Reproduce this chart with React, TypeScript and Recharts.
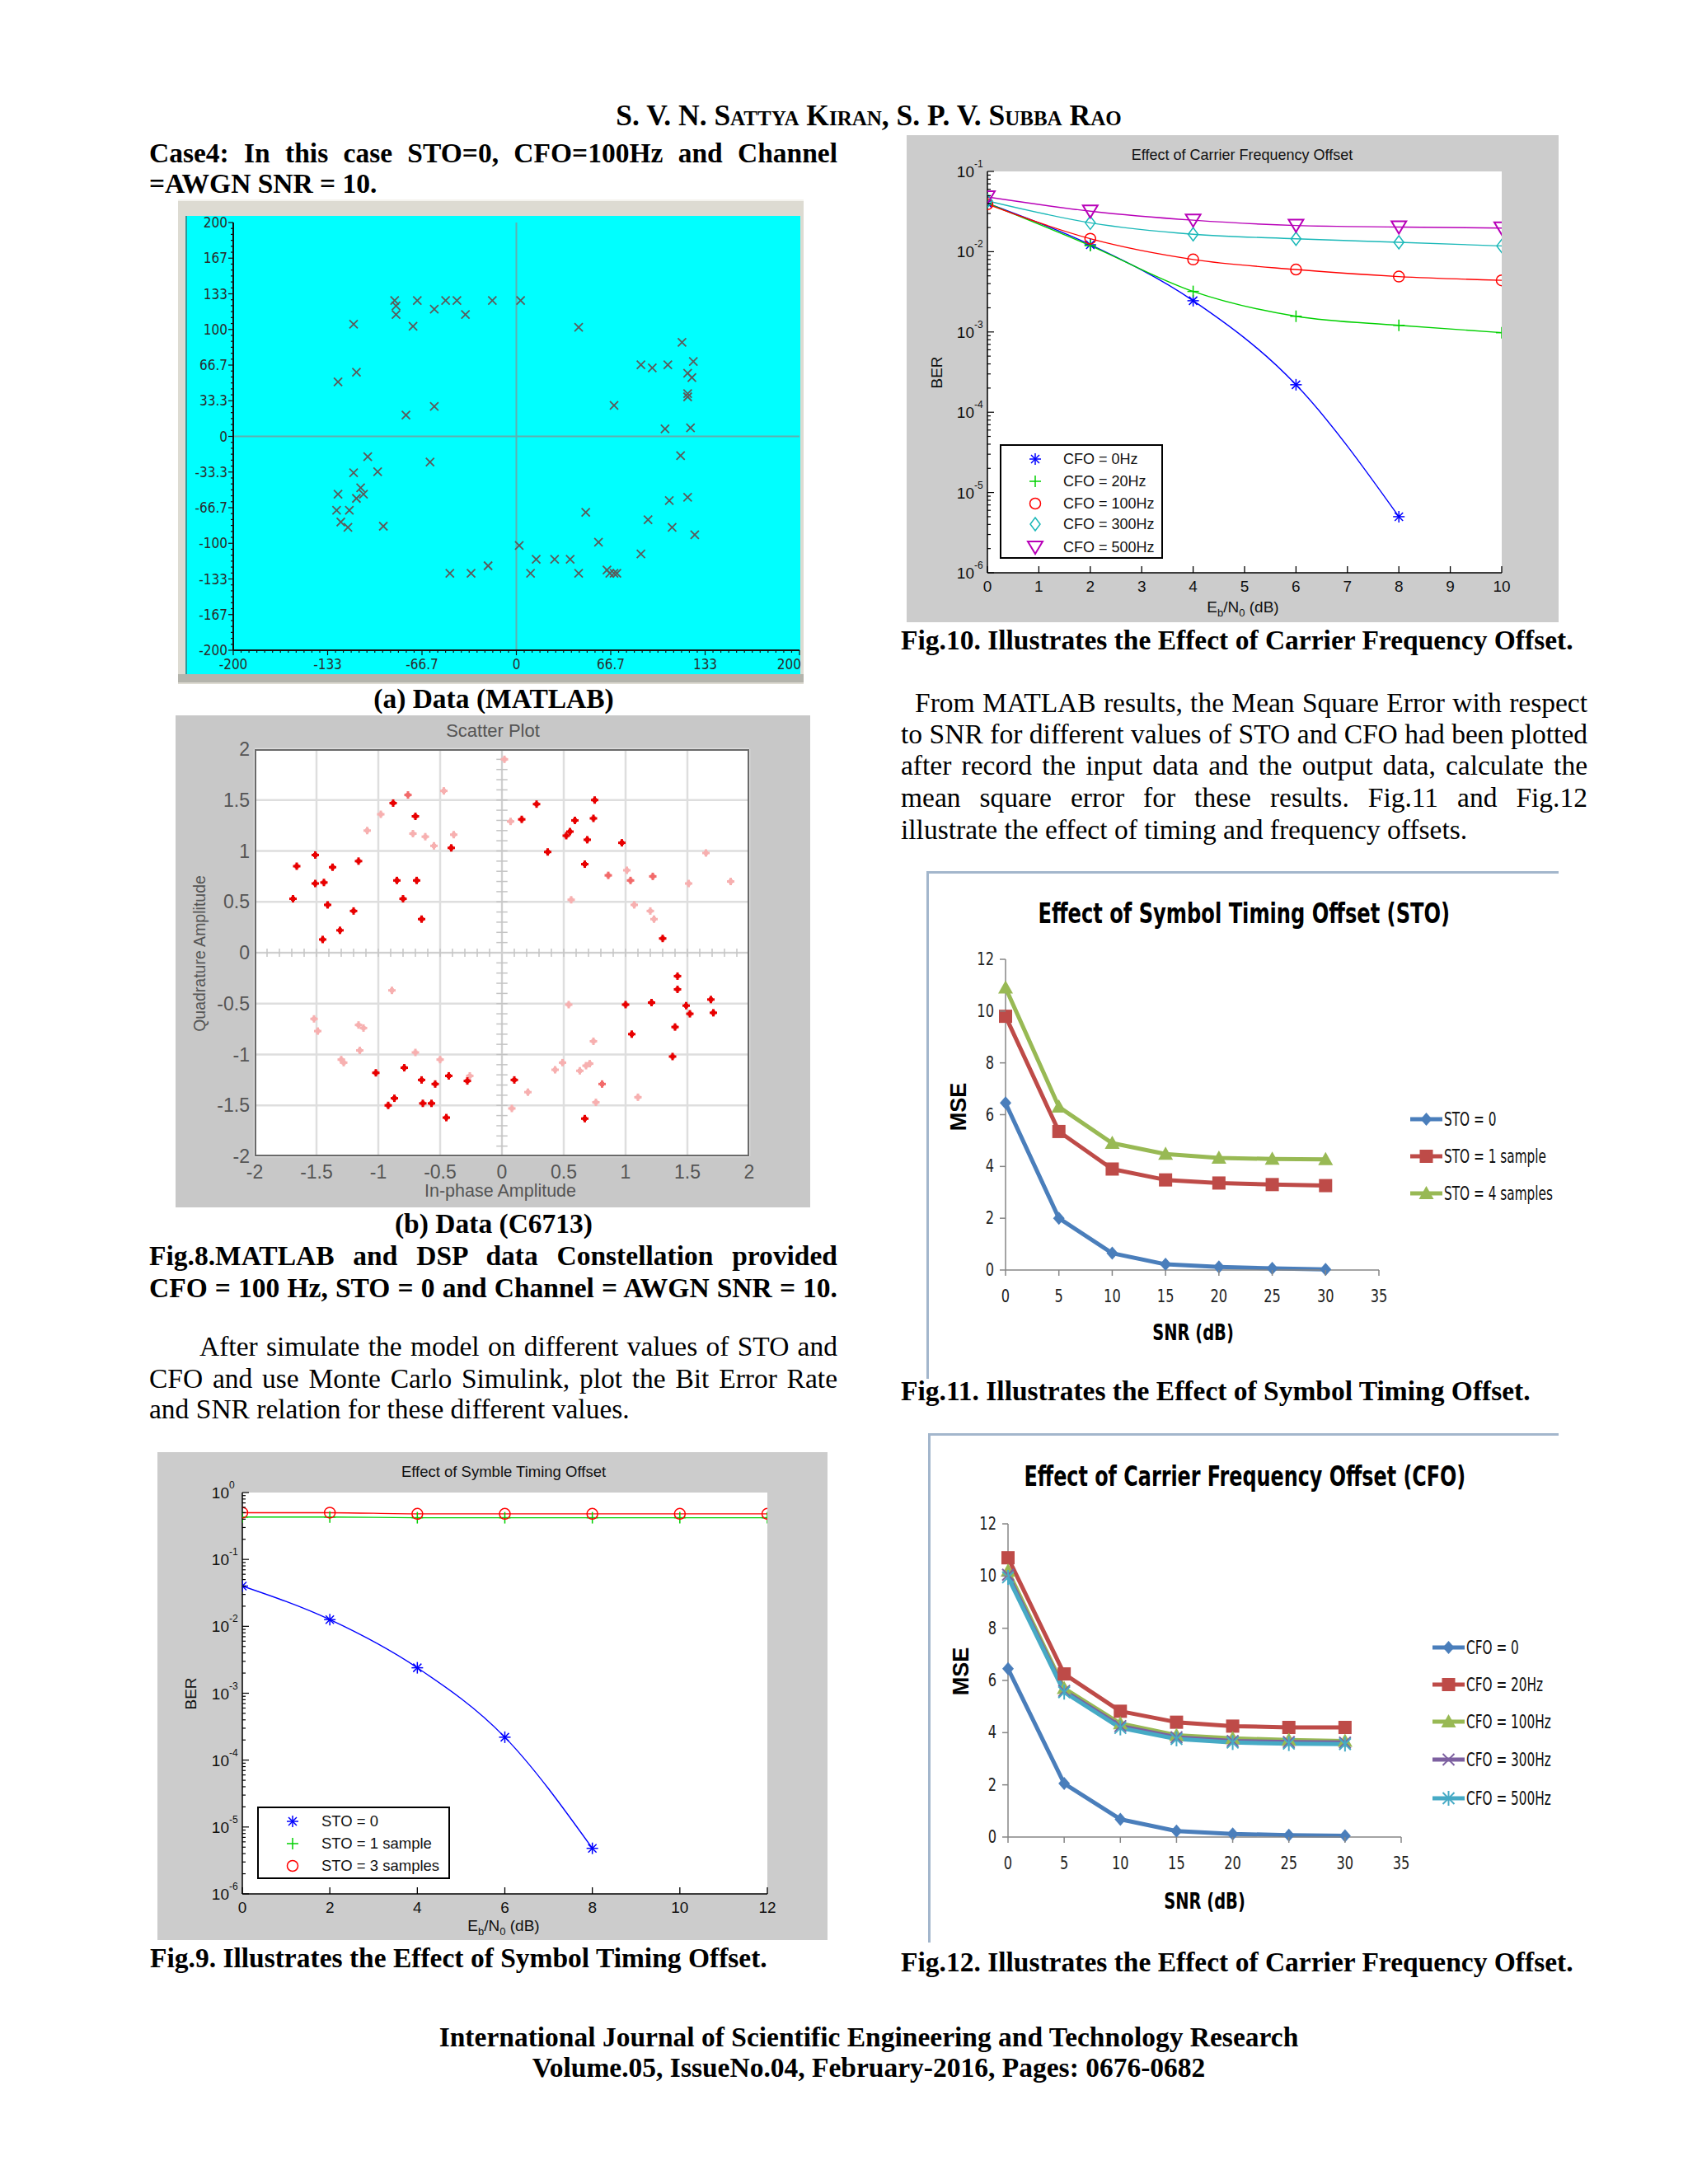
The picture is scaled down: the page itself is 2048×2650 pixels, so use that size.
import React from 'react';
import {
  ScatterChart,
  Scatter,
  LineChart,
  Line,
  XAxis,
  YAxis,
  CartesianGrid,
  ReferenceLine,
  Legend,
} from 'recharts';

const serif = "'Liberation Serif', 'Times New Roman', serif";
const sans = "'Liberation Sans', Arial, sans-serif";
const narrow = "'Liberation Sans Narrow', 'DejaVu Sans Condensed', 'Liberation Sans', sans-serif";
const pixelFont = "'DejaVu Sans Condensed', 'DejaVu Sans', sans-serif";

// ---- Fig.8(a): MATLAB constellation (I, Q)
const matlabPoints: [number, number][] = [
  [-86, 127], [-85, 122], [-85, 114], [-70, 127], [-58, 119], [-50, 127], [-42, 127], [-36, 114], [-17, 127], [3, 127],
  [-115, 105], [-73, 103], [44, 102], [117, 88], [125, 70], [88, 67], [96, 64], [107, 67], [121, 59], [124, 55],
  [-113, 60], [-126, 51], [121, 40], [121, 37], [-58, 28], [-78, 20], [69, 29], [105, 7], [123, 8],
  [-105, -19], [-61, -24], [116, -18], [-115, -34], [-98, -33], [-126, -54], [-110, -48], [-108, -54], [-113, -58],
  [121, -57], [108, -60], [-127, -69], [-118, -69], [49, -71], [-124, -80], [-119, -85], [-94, -84], [93, -78],
  [110, -85], [126, -92], [58, -99], [2, -102], [88, -110], [14, -115], [27, -115], [38, -115], [-20, -121],
  [-47, -128], [-32, -128], [10, -128], [44, -128], [64, -125], [66, -128], [69, -128], [71, -128],
];
const matlabXLabels = ['-200', '-133', '-66.7', '0', '66.7', '133', '200'];
const matlabYLabels = ['-200', '-167', '-133', '-100', '-66.7', '-33.3', '0', '33.3', '66.7', '100', '133', '167', '200'];

// ---- Fig.8(b): C6713 scatter plot
const dspStrong: [number, number][] = [
  [-1.66, 0.85], [-1.51, 0.96], [-1.37, 0.84], [-1.51, 0.68], [-1.44, 0.69], [-1.41, 0.47], [-1.69, 0.53],
  [-1.16, 0.9], [-1.2, 0.41], [-1.31, 0.22], [-1.45, 0.13], [-0.85, 0.71], [-0.69, 0.71], [-0.8, 0.53],
  [-0.65, 0.33], [-0.7, 1.34], [-0.41, 1.03], [-0.88, 1.47], [0.16, 1.31], [0.28, 1.46], [0.59, 1.3],
  [0.52, 1.15], [0.55, 1.19], [0.74, 1.32], [0.75, 1.5], [0.69, 1.11], [0.37, 0.99], [0.97, 1.08], [0.67, 0.87],
  [1.3, 0.14], [1.42, -0.23], [1.42, -0.36], [1.0, -0.51], [1.21, -0.49], [1.49, -0.52], [1.52, -0.6],
  [1.69, -0.46], [1.71, -0.59], [1.4, -0.73], [1.05, -0.8], [1.38, -1.02], [0.67, -1.63], [0.1, -1.25],
  [-0.28, -1.26], [-0.43, -1.21], [-0.54, -1.29], [-0.65, -1.25], [-0.79, -1.13], [-1.02, -1.18],
  [-0.87, -1.43], [-0.92, -1.5], [-0.64, -1.48], [-0.57, -1.48], [-0.45, -1.62],
];
const dspMid: [number, number][] = [
  [-0.76, 1.55], [0.86, 0.76], [1.04, 0.71], [1.22, 0.75], [0.81, -1.29],
];
const dspFaint: [number, number][] = [
  [-1.09, 1.2], [-0.98, 1.36], [-0.72, 1.17], [-0.62, 1.14], [-0.55, 1.05], [-0.47, 1.59], [-0.39, 1.16],
  [0.07, 1.29], [0.02, 1.9], [1.01, 0.81], [1.07, 0.47], [1.2, 0.41], [1.23, 0.33], [0.56, 0.52], [1.65, 0.98],
  [1.51, 0.68], [1.85, 0.7], [-0.89, -0.37], [-1.52, -0.65], [-1.49, -0.77], [-1.16, -0.71], [-1.12, -0.74],
  [-1.15, -0.96], [-1.3, -1.05], [-1.28, -1.08], [-0.7, -0.98], [-0.5, -1.05], [-0.26, -1.21], [0.54, -0.51],
  [0.74, -0.87], [0.49, -1.08], [0.43, -1.15], [0.63, -1.16], [0.68, -1.11], [0.71, -1.09], [0.21, -1.37],
  [1.1, -1.42], [0.76, -1.47], [0.08, -1.53],
];
const dspTicks = [-2, -1.5, -1, -0.5, 0, 0.5, 1, 1.5, 2];

// ---- Fig.9: BER vs Eb/N0 for STO
const stoEbN0 = [0, 2, 4, 6, 8, 10, 12];
const berSto0 = [0.04, 0.0126, 0.0024, 0.00022, 0.0000048];
const berSto1 = [0.43, 0.43, 0.42, 0.42, 0.42, 0.42, 0.42];
const berSto3 = [0.5, 0.5, 0.48, 0.48, 0.48, 0.48, 0.48];

// ---- Fig.10: BER vs Eb/N0 for CFO
const cfoEbN0 = [0, 2, 4, 6, 8, 10];
const berCfo0 = [0.04, 0.0122, 0.00245, 0.00022, 0.000005];
const berCfo20 = [0.04, 0.0119, 0.0032, 0.00157, 0.00121, 0.00098];
const berCfo100 = [0.039, 0.0145, 0.008, 0.006, 0.0049, 0.0044];
const berCfo300 = [0.043, 0.0229, 0.0165, 0.0145, 0.0131, 0.0118];
const berCfo500 = [0.048, 0.032, 0.0247, 0.0212, 0.0203, 0.0197];

// ---- Fig.11 / Fig.12: MSE vs SNR
const snrDb = [0, 5, 10, 15, 20, 25, 30];
const mseSto0 = [6.45, 2.0, 0.65, 0.22, 0.12, 0.06, 0.02];
const mseSto1 = [9.8, 5.35, 3.9, 3.48, 3.36, 3.3, 3.26];
const mseSto4 = [10.9, 6.3, 4.9, 4.48, 4.33, 4.29, 4.27];
const mseCfo0 = [6.45, 2.05, 0.68, 0.23, 0.12, 0.07, 0.05];
const mseCfo20 = [10.7, 6.25, 4.82, 4.4, 4.25, 4.2, 4.2];
const mseCfo100 = [10.2, 5.7, 4.35, 3.9, 3.78, 3.72, 3.68];
const mseCfo300 = [10.05, 5.6, 4.25, 3.82, 3.68, 3.64, 3.62];
const mseCfo500 = [9.95, 5.55, 4.18, 3.76, 3.62, 3.58, 3.56];

const toXY = (pts: [number, number][]) => pts.map(([x, y]) => ({ x, y }));

const fig9Data = stoEbN0.map((x, i) => ({ x, sto0: berSto0[i] ?? null, sto1: berSto1[i], sto3: berSto3[i] }));
const fig10Data = cfoEbN0.map((x, i) => ({
  x, cfo0: berCfo0[i] ?? null, cfo20: berCfo20[i], cfo100: berCfo100[i], cfo300: berCfo300[i], cfo500: berCfo500[i],
}));
const fig11Data = snrDb.map((x, i) => ({ x, sto0: mseSto0[i], sto1: mseSto1[i], sto4: mseSto4[i] }));
const fig12Data = snrDb.map((x, i) => ({
  x, cfo0: mseCfo0[i], cfo20: mseCfo20[i], cfo100: mseCfo100[i], cfo300: mseCfo300[i], cfo500: mseCfo500[i],
}));

// axis tick helpers
const matlabTicks = Array.from({ length: 73 }, (_, k) => -200 + (k * 400) / 72);
function logTicks(minExp: number, maxExp: number) {
  const t: number[] = [];
  for (let e = minExp; e < maxExp; e++) {
    for (let m = 1; m < 10; m++) t.push(Number((m * Math.pow(10, e)).toPrecision(2)));
  }
  t.push(Math.pow(10, maxExp));
  return t;
}
const centerMinor = Array.from({ length: 39 }, (_, k) => Number((-1.9 + k * 0.1).toFixed(1))).filter((v) => v !== 0);

// ---------- markers ----------
function XMark({ cx, cy }: any) {
  const r = 5;
  return (
    <g stroke="#5b5b5b" strokeWidth={1.8}>
      <line x1={cx - r} y1={cy - r} x2={cx + r} y2={cy + r} />
      <line x1={cx - r} y1={cy + r} x2={cx + r} y2={cy - r} />
    </g>
  );
}

function PlusBlob({ cx, cy, color }: any) {
  return (
    <g fill={color}>
      <rect x={cx - 4.5} y={cy - 1.5} width={9} height={3} />
      <rect x={cx - 1.5} y={cy - 4.5} width={3} height={9} />
      <rect x={cx - 2.5} y={cy - 2.5} width={5} height={5} />
    </g>
  );
}

function MatlabMarker({ kind, cx, cy, color }: any) {
  if (kind === 'star') {
    const r = 7;
    const d = 5;
    return (
      <g stroke={color} strokeWidth={1.5}>
        <line x1={cx - r} x2={cx + r} y1={cy} y2={cy} />
        <line x1={cx} x2={cx} y1={cy - r} y2={cy + r} />
        <line x1={cx - d} x2={cx + d} y1={cy - d} y2={cy + d} />
        <line x1={cx - d} x2={cx + d} y1={cy + d} y2={cy - d} />
      </g>
    );
  }
  if (kind === 'plus') {
    const r = 7;
    return (
      <g stroke={color} strokeWidth={1.5}>
        <line x1={cx - r} x2={cx + r} y1={cy} y2={cy} />
        <line x1={cx} x2={cx} y1={cy - r} y2={cy + r} />
      </g>
    );
  }
  if (kind === 'circle') return <circle cx={cx} cy={cy} r={6.5} fill="none" stroke={color} strokeWidth={1.5} />;
  if (kind === 'diamond') {
    return (
      <polygon
        points={`${cx},${cy - 8} ${cx + 6},${cy} ${cx},${cy + 8} ${cx - 6},${cy}`}
        fill="none"
        stroke={color}
        strokeWidth={1.5}
      />
    );
  }
  return (
    <polygon
      points={`${cx - 9},${cy - 7} ${cx + 9},${cy - 7} ${cx},${cy + 8}`}
      fill="none"
      stroke={color}
      strokeWidth={2}
    />
  );
}

function ExcelMarker({ kind, cx, cy, color }: any) {
  if (kind === 'diamond') {
    return <polygon points={`${cx},${cy - 8} ${cx + 7},${cy} ${cx},${cy + 8} ${cx - 7},${cy}`} fill={color} />;
  }
  if (kind === 'square') return <rect x={cx - 8} y={cy - 8} width={16} height={16} fill={color} />;
  if (kind === 'triangle') return <polygon points={`${cx},${cy - 9} ${cx + 9},${cy + 7} ${cx - 9},${cy + 7}`} fill={color} />;
  const r = 7;
  return (
    <g stroke={color} strokeWidth={2}>
      <line x1={cx - r} y1={cy - r} x2={cx + r} y2={cy + r} />
      <line x1={cx - r} y1={cy + r} x2={cx + r} y2={cy - r} />
      {kind === 'asterisk' && <line x1={cx} y1={cy - 9} x2={cx} y2={cy + 9} />}
    </g>
  );
}

const dotRenderer = (Comp: any, kind: string, color: string) => (p: any) =>
  p.cx == null || p.cy == null || p.value == null ? (
    <g key={`n${p.index}`} />
  ) : (
    <Comp key={`d${p.index}`} kind={kind} cx={p.cx} cy={p.cy} color={color} />
  );

// ---------- ticks ----------
const MatlabXTick = (p: any) => {
  const k = Math.round(((p.payload.value + 200) * 72) / 400);
  const major = k % 12 === 0;
  const last = k === 72;
  return (
    <g>
      <line x1={p.x} x2={p.x} y1={p.y} y2={p.y + (major ? 6 : 3)} stroke="#111" strokeWidth={1.2} />
      {major && (
        <text
          x={last ? p.x + 2 : p.x}
          y={p.y + 23}
          textAnchor={last ? 'end' : 'middle'}
          fontSize={17}
          fontFamily={pixelFont}
          fill="#2b2b2b"
        >
          {matlabXLabels[k / 12]}
        </text>
      )}
    </g>
  );
};

const MatlabYTick = (p: any) => {
  const k = Math.round(((p.payload.value + 200) * 72) / 400);
  const major = k % 6 === 0;
  return (
    <g>
      <line x1={p.x - (major ? 6 : 3)} x2={p.x} y1={p.y} y2={p.y} stroke="#111" strokeWidth={1.2} />
      {major && (
        <text x={p.x - 7} y={p.y + 6} textAnchor="end" fontSize={17} fontFamily={pixelFont} fill="#2b2b2b">
          {matlabYLabels[k / 6]}
        </text>
      )}
    </g>
  );
};

const DspXTick = (p: any) => (
  <text x={p.x} y={p.y + 27} textAnchor="middle" fontSize={23} fontFamily={sans} fill="#555">
    {p.payload.value}
  </text>
);
const DspYTick = (p: any) => (
  <text x={p.x - 6} y={p.y + 8} textAnchor="end" fontSize={23} fontFamily={sans} fill="#555">
    {p.payload.value}
  </text>
);

const BerXTick = (p: any) => (
  <g>
    <line x1={p.x} x2={p.x} y1={p.y} y2={p.y - 8} stroke="#000" strokeWidth={1.3} />
    <text x={p.x} y={p.y + 23} textAnchor="middle" fontSize={19} fontFamily={sans} fill="#111">
      {p.payload.value}
    </text>
  </g>
);

const LogYTick = (p: any) => {
  const lg = Math.log10(p.payload.value);
  const e = Math.round(lg);
  const major = Math.abs(lg - e) < 1e-6;
  return (
    <g>
      <line x1={p.x} x2={p.x + (major ? 8 : 4)} y1={p.y} y2={p.y} stroke="#000" strokeWidth={1.2} />
      {major && (
        <text x={p.x - 16} y={p.y + 7} textAnchor="end" fontSize={19} fontFamily={sans} fill="#111">
          10
        </text>
      )}
      {major && (
        <text x={p.x - 16} y={p.y - 5} textAnchor="start" fontSize={12} fontFamily={sans} fill="#111">
          {e}
        </text>
      )}
    </g>
  );
};

const ExcelXTick = (p: any) => (
  <g>
    <line x1={p.x} x2={p.x} y1={p.y} y2={p.y + 7} stroke="#868686" strokeWidth={1.5} />
    <text
      transform={`translate(${p.x},${p.y + 39}) scale(0.82,1)`}
      textAnchor="middle"
      fontSize={22}
      fontFamily={narrow}
      fill="#222"
    >
      {p.payload.value}
    </text>
  </g>
);
const ExcelYTick = (p: any) => (
  <g>
    <line x1={p.x - 7} x2={p.x} y1={p.y} y2={p.y} stroke="#868686" strokeWidth={1.5} />
    <text
      transform={`translate(${p.x - 14},${p.y + 7}) scale(0.82,1)`}
      textAnchor="end"
      fontSize={22}
      fontFamily={narrow}
      fill="#222"
    >
      {p.payload.value}
    </text>
  </g>
);

// ---------- legends ----------
function MatlabLegendBox({ items, w, h, rows, markerX, textX, fontSize = 18 }: any) {
  return (
    <div style={{ position: 'relative', width: w, height: h, background: '#fff', border: '2px solid #000', boxSizing: 'border-box' }}>
      {items.map((it: any, i: number) => (
        <div key={it.key} style={{ position: 'absolute', left: 0, top: rows[i] - 13, width: '100%', height: 26 }}>
          <svg width={26} height={26} style={{ position: 'absolute', left: markerX - 13, top: 0 }}>
            <MatlabMarker kind={it.marker} cx={13} cy={13} color={it.color} />
          </svg>
          <span style={{ position: 'absolute', left: textX, top: 0, lineHeight: '26px', fontSize, fontFamily: sans, color: '#111', whiteSpace: 'nowrap' }}>
            {it.label}
          </span>
        </div>
      ))}
    </div>
  );
}

function ExcelLegendBox({ items, w, h, rows, lineX, textX }: any) {
  return (
    <div style={{ position: 'relative', width: w, height: h }}>
      {items.map((it: any, i: number) => (
        <div key={it.key} style={{ position: 'absolute', left: 0, top: rows[i] - 15, width: '100%', height: 30 }}>
          <svg width={textX} height={30} style={{ position: 'absolute', left: 0, top: 0 }}>
            <line x1={lineX} x2={lineX + 39} y1={15} y2={15} stroke={it.color} strokeWidth={5} />
            <ExcelMarker kind={it.marker} cx={lineX + 19.5} cy={15} color={it.color} />
          </svg>
          <span
            style={{
              position: 'absolute',
              left: textX,
              top: 0,
              lineHeight: '30px',
              fontSize: 23,
              fontFamily: narrow,
              color: '#111',
              whiteSpace: 'nowrap',
              display: 'inline-block',
              transform: 'scaleX(0.74)',
              transformOrigin: 'left center',
            }}
          >
            {it.label}
          </span>
        </div>
      ))}
    </div>
  );
}

// ---------- chart blocks ----------
function BerChart({ width, height, top, right, yWidth, xHeight, data, xDomain, xTicks, yDomain, yTicks, series, legend }: any) {
  return (
    <LineChart width={width} height={height} data={data} margin={{ top, right, left: 0, bottom: 0 }}>
      <XAxis
        type="number"
        dataKey="x"
        domain={xDomain}
        ticks={xTicks}
        interval={0}
        tick={<BerXTick />}
        tickLine={false}
        tickSize={0}
        tickMargin={0}
        height={xHeight}
        axisLine={{ stroke: '#000', strokeWidth: 1.5 }}
        allowDataOverflow
      />
      <YAxis
        type="number"
        scale="log"
        domain={yDomain}
        ticks={yTicks}
        interval={0}
        tick={<LogYTick />}
        tickLine={false}
        tickSize={0}
        tickMargin={0}
        width={yWidth}
        axisLine={{ stroke: '#000', strokeWidth: 1.5 }}
        allowDataOverflow
      />
      {series.map((s: any) => (
        <Line
          key={s.key}
          dataKey={s.key}
          type="monotone"
          stroke={s.color}
          strokeWidth={1.4}
          dot={dotRenderer(MatlabMarker, s.marker, s.color)}
          activeDot={false}
          isAnimationActive={false}
        />
      ))}
      <Legend
        layout="vertical"
        align="center"
        verticalAlign="middle"
        wrapperStyle={{ left: legend.left, top: legend.top, width: legend.w, height: legend.h }}
        content={() => <MatlabLegendBox items={series} {...legend} />}
      />
    </LineChart>
  );
}

function MseChart({ width, height, top, right, yWidth, xHeight, data, series, legend }: any) {
  return (
    <LineChart width={width} height={height} data={data} margin={{ top, right, left: 0, bottom: 0 }}>
      <XAxis
        type="number"
        dataKey="x"
        domain={[0, 35]}
        ticks={[0, 5, 10, 15, 20, 25, 30, 35]}
        interval={0}
        tick={<ExcelXTick />}
        tickLine={false}
        tickSize={0}
        tickMargin={0}
        height={xHeight}
        axisLine={{ stroke: '#868686', strokeWidth: 1.5 }}
      />
      <YAxis
        type="number"
        domain={[0, 12]}
        ticks={[0, 2, 4, 6, 8, 10, 12]}
        interval={0}
        tick={<ExcelYTick />}
        tickLine={false}
        tickSize={0}
        tickMargin={0}
        width={yWidth}
        axisLine={{ stroke: '#868686', strokeWidth: 1.5 }}
      />
      {series.map((s: any) => (
        <Line
          key={s.key}
          dataKey={s.key}
          type="linear"
          stroke={s.color}
          strokeWidth={5}
          strokeLinejoin="round"
          dot={dotRenderer(ExcelMarker, s.marker, s.color)}
          activeDot={false}
          isAnimationActive={false}
        />
      ))}
      <Legend
        layout="vertical"
        align="center"
        verticalAlign="middle"
        wrapperStyle={{ left: 0, top: 0, width, height }}
        content={() => <ExcelLegendBox items={series} w={width} h={height} {...legend} />}
      />
    </LineChart>
  );
}

// ---------- text helpers ----------
function TextLine({ x, y, w, children, bold = false, justify = false, center = false, indent = 0, size = 33.5, caps = false }: any) {
  return (
    <div
      style={{
        position: 'absolute',
        left: x,
        top: y - 20,
        width: w,
        height: 40,
        lineHeight: '40px',
        fontFamily: serif,
        fontSize: size,
        fontWeight: bold ? 700 : 400,
        fontVariant: caps ? 'small-caps' : 'normal',
        textAlign: justify ? 'justify' : center ? 'center' : 'left',
        textAlignLast: justify ? 'justify' : center ? 'center' : 'left',
        textIndent: indent,
        color: '#000',
        whiteSpace: justify ? 'normal' : 'nowrap',
      }}
    >
      {children}
    </div>
  );
}

function Label({ cx, cy, w = 400, h = 40, size, font, color = '#111', bold = false, rotate = false, sx = 1, children }: any) {
  return (
    <div
      style={{
        position: 'absolute',
        left: cx - w / 2,
        top: cy - h / 2,
        width: w,
        height: h,
        lineHeight: `${h}px`,
        textAlign: 'center',
        fontSize: size,
        fontFamily: font,
        fontWeight: bold ? 700 : 400,
        color,
        whiteSpace: 'nowrap',
        transform: rotate ? 'rotate(-90deg)' : undefined,
      }}
    >
      <span style={{ display: 'inline-block', transform: sx !== 1 ? `scaleX(${sx})` : undefined }}>{children}</span>
    </div>
  );
}

const box = (left: number, top: number, width: number, height: number, extra: any = {}) => ({
  position: 'absolute' as const,
  left,
  top,
  width,
  height,
  ...extra,
});

export default function App() {
  const fig9Series = [
    { key: 'sto0', label: 'STO = 0', color: '#0000ff', marker: 'star' },
    { key: 'sto1', label: 'STO = 1 sample', color: '#00d000', marker: 'plus' },
    { key: 'sto3', label: 'STO = 3 samples', color: '#ff0000', marker: 'circle' },
  ];
  const fig10Series = [
    { key: 'cfo0', label: 'CFO = 0Hz', color: '#0000ff', marker: 'star' },
    { key: 'cfo20', label: 'CFO = 20Hz', color: '#00d000', marker: 'plus' },
    { key: 'cfo100', label: 'CFO = 100Hz', color: '#ff0000', marker: 'circle' },
    { key: 'cfo300', label: 'CFO = 300Hz', color: '#1ab8b8', marker: 'diamond' },
    { key: 'cfo500', label: 'CFO = 500Hz', color: '#b800b8', marker: 'tri' },
  ];
  const fig11Series = [
    { key: 'sto0', label: 'STO = 0', color: '#4a7ebb', marker: 'diamond' },
    { key: 'sto1', label: 'STO = 1 sample', color: '#be4b48', marker: 'square' },
    { key: 'sto4', label: 'STO = 4 samples', color: '#98b954', marker: 'triangle' },
  ];
  const fig12Series = [
    { key: 'cfo0', label: 'CFO = 0', color: '#4a7ebb', marker: 'diamond' },
    { key: 'cfo20', label: 'CFO = 20Hz', color: '#be4b48', marker: 'square' },
    { key: 'cfo100', label: 'CFO = 100Hz', color: '#98b954', marker: 'triangle' },
    { key: 'cfo300', label: 'CFO = 300Hz', color: '#7d60a0', marker: 'x' },
    { key: 'cfo500', label: 'CFO = 500Hz', color: '#46aac5', marker: 'asterisk' },
  ];

  return (
    <div style={{ position: 'absolute', left: 0, top: 0, width: 2048, height: 2650, background: '#fff', overflow: 'hidden' }}>
      <style>{'.recharts-surface{overflow:visible}'}</style>

      {/* header */}
      <TextLine x={554} y={140} w={1000} bold center caps size={35.5}>
        S. V. N. Sattya Kiran, S. P. V. Subba Rao
      </TextLine>

      {/* left column text */}
      <TextLine x={181} y={186} w={835} bold justify>
        Case4: In this case STO=0, CFO=100Hz and Channel
      </TextLine>
      <TextLine x={181} y={223} w={835} bold>
        =AWGN SNR = 10.
      </TextLine>

      {/* Fig.8(a) */}
      <div style={box(216, 242, 759, 586, { background: '#dddbd2', borderTop: '2px solid #f4f3ee' })} />
      <div style={box(216, 818, 759, 10, { background: '#b4b4ac' })} />
      <div style={box(225, 262, 746, 556, { background: '#00ffff', borderLeft: '2px solid #2a9a9a', boxSizing: 'border-box' })}>
        <ScatterChart width={746} height={556} margin={{ top: 8, right: 3, left: 0, bottom: 0 }}>
          <XAxis
            type="number"
            dataKey="x"
            domain={[-200, 200]}
            ticks={matlabTicks}
            interval={0}
            tick={<MatlabXTick />}
            tickLine={false}
            tickSize={0}
            tickMargin={0}
            height={29}
            axisLine={{ stroke: '#111', strokeWidth: 2 }}
            allowDataOverflow
          />
          <YAxis
            type="number"
            dataKey="y"
            domain={[-200, 200]}
            ticks={matlabTicks}
            interval={0}
            tick={<MatlabYTick />}
            tickLine={false}
            tickSize={0}
            tickMargin={0}
            width={56}
            axisLine={{ stroke: '#111', strokeWidth: 2 }}
            allowDataOverflow
          />
          <ReferenceLine x={0} stroke="#5fb0b0" strokeWidth={2} />
          <ReferenceLine y={0} stroke="#5fb0b0" strokeWidth={2} />
          <Scatter data={toXY(matlabPoints)} isAnimationActive={false} shape={(p: any) => <XMark cx={p.cx} cy={p.cy} />} />
        </ScatterChart>
      </div>
      <TextLine x={399} y={848} w={400} bold center>
        (a) Data (MATLAB)
      </TextLine>

      {/* Fig.8(b) */}
      <div style={box(213, 868, 770, 597, { background: '#c8c8c8' })}>
        <div style={box(96, 41, 600, 494, { background: '#fff' })} />
        <div style={{ position: 'absolute', left: 0, top: 0 }}>
          <ScatterChart width={770} height={597} margin={{ top: 41, right: 74, left: 0, bottom: 0 }}>
            <CartesianGrid stroke="#dedede" strokeWidth={2.5} />
            <XAxis
              type="number"
              dataKey="x"
              domain={[-2, 2]}
              ticks={dspTicks}
              interval={0}
              tick={<DspXTick />}
              tickLine={false}
              tickSize={0}
              tickMargin={0}
              height={62}
              axisLine={false}
            />
            <YAxis
              type="number"
              dataKey="y"
              domain={[-2, 2]}
              ticks={dspTicks}
              interval={0}
              tick={<DspYTick />}
              tickLine={false}
              tickSize={0}
              tickMargin={0}
              width={96}
              axisLine={false}
            />
            <ReferenceLine x={0} stroke="#cfcfcf" strokeWidth={2} />
            <ReferenceLine y={0} stroke="#cfcfcf" strokeWidth={2} />
            {centerMinor.map((v) => (
              <ReferenceLine key={`h${v}`} segment={[{ x: v, y: -0.04 }, { x: v, y: 0.04 }]} stroke="#c4c4c4" strokeWidth={1.5} />
            ))}
            {centerMinor.map((v) => (
              <ReferenceLine key={`v${v}`} segment={[{ x: -0.045, y: v }, { x: 0.045, y: v }]} stroke="#c4c4c4" strokeWidth={1.5} />
            ))}
            <Scatter data={toXY(dspFaint)} isAnimationActive={false} shape={(p: any) => <PlusBlob cx={p.cx} cy={p.cy} color="#f7b0b0" />} />
            <Scatter data={toXY(dspMid)} isAnimationActive={false} shape={(p: any) => <PlusBlob cx={p.cx} cy={p.cy} color="#f26a6a" />} />
            <Scatter data={toXY(dspStrong)} isAnimationActive={false} shape={(p: any) => <PlusBlob cx={p.cx} cy={p.cy} color="#e80000" />} />
          </ScatterChart>
        </div>
        <div style={box(96, 41, 600, 494, { border: '2px solid #6a6a6a', boxSizing: 'border-box', pointerEvents: 'none' })} />
      </div>
      <Label cx={598} cy={887} size={22} font={sans} color="#555">Scatter Plot</Label>
      <Label cx={607} cy={1445} size={21.5} font={sans} color="#555">In-phase Amplitude</Label>
      <Label cx={242} cy={1157} size={19.5} font={sans} color="#555" rotate>Quadrature Amplitude</Label>
      <TextLine x={399} y={1485} w={400} bold center>
        (b) Data (C6713)
      </TextLine>
      <TextLine x={181} y={1524} w={835} bold justify>
        Fig.8.MATLAB and DSP data Constellation provided
      </TextLine>
      <TextLine x={181} y={1563} w={835} bold justify>
        CFO = 100 Hz, STO = 0 and Channel = AWGN SNR = 10.
      </TextLine>

      <TextLine x={181} y={1634} w={835} justify indent={61}>
        After simulate the model on different values of STO and
      </TextLine>
      <TextLine x={181} y={1673} w={835} justify>
        CFO and use Monte Carlo Simulink, plot the Bit Error Rate
      </TextLine>
      <TextLine x={181} y={1710} w={835}>
        and SNR relation for these different values.
      </TextLine>

      {/* Fig.9 */}
      <div style={box(191, 1762, 813, 592, { background: '#cccccc' })}>
        <div style={box(103, 49, 637, 487, { background: '#fff' })} />
        <div style={{ position: 'absolute', left: 0, top: 0 }}>
          <BerChart
            width={813}
            height={592}
            top={49}
            right={73}
            yWidth={103}
            xHeight={56}
            data={fig9Data}
            xDomain={[0, 12]}
            xTicks={stoEbN0}
            yDomain={[1e-6, 1]}
            yTicks={logTicks(-6, 0)}
            series={fig9Series}
            legend={{ left: 121, top: 430, w: 234, h: 88, rows: [16, 43, 70], markerX: 41, textX: 76, fontSize: 18.5 }}
          />
        </div>
      </div>
      <Label cx={611} cy={1786} size={18.5} font={sans}>Effect of Symble Timing Offset</Label>
      <Label cx={232} cy={2055} size={19} font={sans} rotate>BER</Label>
      <Label cx={611} cy={2337} size={19} font={sans}>
        E<sub style={{ fontSize: 13 }}>b</sub>/N<sub style={{ fontSize: 13 }}>0</sub> (dB)
      </Label>
      <TextLine x={182} y={2376} w={835} bold>
        Fig.9. Illustrates the Effect of Symbol Timing Offset.
      </TextLine>

      {/* Fig.10 */}
      <div style={box(1100, 164, 791, 591, { background: '#cccccc' })}>
        <div style={box(98, 44, 624, 487, { background: '#fff' })} />
        <div style={{ position: 'absolute', left: 0, top: 0 }}>
          <BerChart
            width={791}
            height={591}
            top={44}
            right={69}
            yWidth={98}
            xHeight={60}
            data={fig10Data}
            xDomain={[0, 10]}
            xTicks={[0, 1, 2, 3, 4, 5, 6, 7, 8, 9, 10]}
            yDomain={[1e-6, 0.1]}
            yTicks={logTicks(-6, -1)}
            series={fig10Series}
            legend={{ left: 113, top: 375, w: 198, h: 139, rows: [16, 43, 70, 95, 123], markerX: 41, textX: 75 }}
          />
        </div>
      </div>
      <Label cx={1507} cy={188} size={18} font={sans}>Effect of Carrier Frequency Offset</Label>
      <Label cx={1137} cy={452} size={19} font={sans} rotate>BER</Label>
      <Label cx={1508} cy={737} size={19} font={sans}>
        E<sub style={{ fontSize: 13 }}>b</sub>/N<sub style={{ fontSize: 13 }}>0</sub> (dB)
      </Label>
      <TextLine x={1093} y={777} w={835} bold>
        Fig.10. Illustrates the Effect of Carrier Frequency Offset.
      </TextLine>

      {/* right column paragraph */}
      <TextLine x={1093} y={853} w={833} justify indent={17}>
        From MATLAB results, the Mean Square Error with respect
      </TextLine>
      <TextLine x={1093} y={891} w={833} justify>
        to SNR for different values of STO and CFO had been plotted
      </TextLine>
      <TextLine x={1093} y={929} w={833} justify>
        after record the input data and the output data, calculate the
      </TextLine>
      <TextLine x={1093} y={968} w={833} justify>
        mean square error for these results. Fig.11 and Fig.12
      </TextLine>
      <TextLine x={1093} y={1007} w={833}>
        illustrate the effect of timing and frequency offsets.
      </TextLine>

      {/* Fig.11 */}
      <div style={box(1125, 1057, 766, 3, { background: '#a3b6cc' })} />
      <div style={box(1124, 1057, 3, 616, { background: '#a3b6cc' })} />
      <div style={box(1125, 1130, 766, 460)}>
        <MseChart
          width={766}
          height={460}
          top={34}
          right={218}
          yWidth={95}
          xHeight={49}
          data={fig11Data}
          series={fig11Series}
          legend={{ rows: [228, 273, 318], lineX: 586, textX: 627 }}
        />
      </div>
      <Label cx={1509} cy={1108} w={760} h={50} size={34} font={narrow} bold color="#000" sx={0.79}>
        Effect of Symbol Timing Offset (STO)
      </Label>
      <Label cx={1163} cy={1343} w={120} h={40} size={27} font={sans} bold color="#000" rotate>MSE</Label>
      <Label cx={1448} cy={1617} w={200} h={40} size={27} font={narrow} bold color="#000" sx={0.8}>SNR (dB)</Label>
      <TextLine x={1093} y={1688} w={835} bold>
        Fig.11. Illustrates the Effect of Symbol Timing Offset.
      </TextLine>

      {/* Fig.12 */}
      <div style={box(1127, 1739, 764, 3, { background: '#a3b6cc' })} />
      <div style={box(1126, 1739, 3, 618, { background: '#a3b6cc' })} />
      <div style={box(1127, 1815, 764, 465)}>
        <MseChart
          width={764}
          height={465}
          top={34}
          right={191}
          yWidth={96}
          xHeight={51}
          data={fig12Data}
          series={fig12Series}
          legend={{ rows: [184, 229, 274, 320, 367], lineX: 611, textX: 652 }}
        />
      </div>
      <Label cx={1510} cy={1791} w={760} h={50} size={34} font={narrow} bold color="#000" sx={0.78}>
        Effect of Carrier Frequency Offset (CFO)
      </Label>
      <Label cx={1166} cy={2028} w={120} h={40} size={27} font={sans} bold color="#000" rotate>MSE</Label>
      <Label cx={1462} cy={2307} w={200} h={40} size={27} font={narrow} bold color="#000" sx={0.8}>SNR (dB)</Label>
      <TextLine x={1093} y={2381} w={835} bold>
        Fig.12. Illustrates the Effect of Carrier Frequency Offset.
      </TextLine>

      {/* footer */}
      <TextLine x={454} y={2472} w={1200} bold center>
        International Journal of Scientific Engineering and Technology Research
      </TextLine>
      <TextLine x={454} y={2509} w={1200} bold center>
        Volume.05, IssueNo.04, February-2016, Pages: 0676-0682
      </TextLine>
    </div>
  );
}
